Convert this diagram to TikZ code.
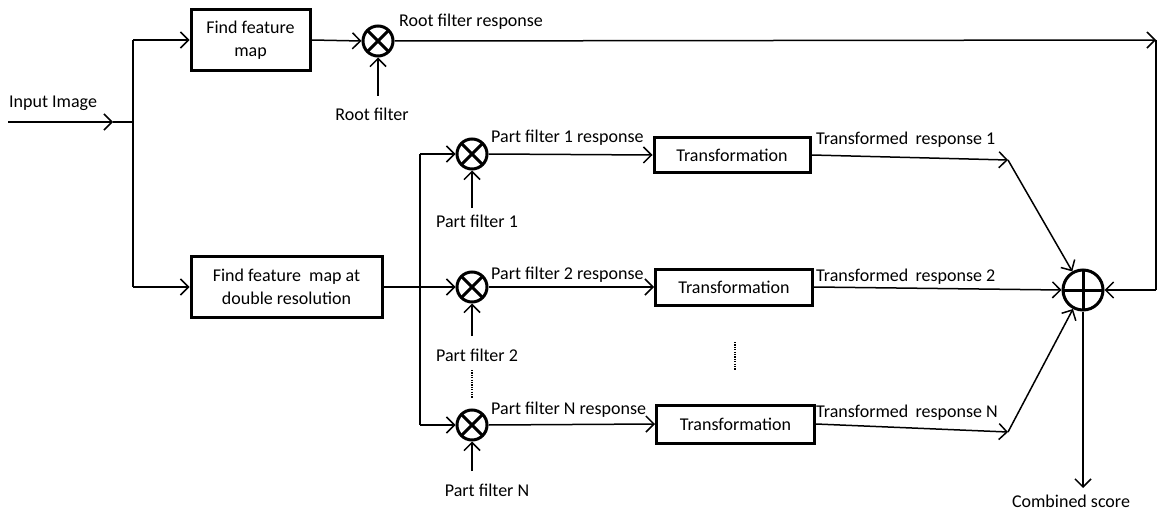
\documentclass[tikz,border=0pt]{standalone}
\usepackage{fontspec}
\setmainfont{Carlito}
\usetikzlibrary{arrows.meta}
\begin{document}
\begin{tikzpicture}[x=1pt,y=-1pt,
  every node/.style={font=\fontsize{18}{23}\selectfont},
  blk/.style={draw, line width=3pt, align=center, inner sep=0pt},
  mul/.style={circle, draw, line width=3pt, minimum size=30pt, inner sep=0pt,
    path picture={\draw[line width=3pt] (path picture bounding box.north west) -- (path picture bounding box.south east)
      (path picture bounding box.north east) -- (path picture bounding box.south west);}},
  add/.style={circle, draw, line width=3pt, minimum size=40pt, inner sep=0pt,
    path picture={\draw[line width=3pt] (path picture bounding box.north) -- (path picture bounding box.south)
      (path picture bounding box.east) -- (path picture bounding box.west);}},
  wire/.style={line width=1.5pt},
  arr/.style={wire, -{Straight Barb[length=8pt,width=16pt,line width=1.5pt]}},
  dots/.style={line width=1.3pt, dash pattern=on 1.2pt off 1.2pt},
  lbl/.style={inner sep=0pt}
]
\useasboundingbox (0,0) rectangle (1158,513);

% blocks
\node[blk, minimum width=119pt, minimum height=61pt] (fm) at (250.5,40) {Find feature\\map};
\node[blk, minimum width=191pt, minimum height=61pt] (fm2) at (286.5,287) {Find feature\hspace{0.45em}map at\\double resolution};
\node[blk, minimum width=156pt, minimum height=35pt] (t1) at (732,155) {Transformation};
\node[blk, minimum width=157pt, minimum height=36pt] (t2) at (734,287) {Transformation};
\node[blk, minimum width=158pt, minimum height=38pt] (tn) at (735.5,424) {Transformation};

% multipliers and adder
\node[mul] (mr) at (378,41) {};
\node[mul] (m1) at (472,154) {};
\node[mul] (m2) at (472,287) {};
\node[mul] (mn) at (472,425) {};
\node[add] (sum) at (1083,290) {};

% labels
\node[lbl, anchor=west] (inlbl) at (9,103) {Input Image};
\node[lbl] (rflbl) at (372,114) {Root filter};
\node[lbl, anchor=west] (rrlbl) at (399,22) {Root filter response};
\node[lbl] (p1lbl) at (477,221) {Part filter 1};
\node[lbl] (p2lbl) at (477,355) {Part filter 2};
\node[lbl] (pnlbl) at (487,490) {Part filter N};
\node[lbl, anchor=west] (r1lbl) at (491,138) {Part filter 1 response};
\node[lbl, anchor=west] (r2lbl) at (491,275) {Part filter 2 response};
\node[lbl, anchor=west] (rnlbl) at (491,410) {Part filter N response};
\node[lbl, anchor=west] (tr1lbl) at (816,140) {Transformed\hspace{0.4em}response 1};
\node[lbl, anchor=west] (tr2lbl) at (816,277) {Transformed\hspace{0.4em}response 2};
\node[lbl, anchor=west] (trnlbl) at (816,413) {Transformed\hspace{0.4em}response N};
\node[lbl] (cslbl) at (1071,501) {Combined score};

% coordinates
\coordinate (in) at (8,122);
\coordinate (inmid) at (113,122);
\coordinate (j0) at (133,122);
\coordinate (jt) at (133,40);
\coordinate (jb) at (133,287);
\coordinate (rfs) at (378,96);
\coordinate (tr) at (1156,40);
\coordinate (br) at (1156,290);
\coordinate (jp1) at (420,154);
\coordinate (jp2) at (420,287);
\coordinate (jpn) at (420,425);
\coordinate (p1s) at (472,208);
\coordinate (p2s) at (472,336);
\coordinate (pns) at (472,471);
\coordinate (d1a) at (472,370);
\coordinate (d1b) at (472,398);
\coordinate (d2a) at (735,342);
\coordinate (d2b) at (735,370);
\coordinate (c1) at (1008,160);
\coordinate (cn) at (1008,432);
\coordinate (cs) at (1083,488);

% connectors
\draw[arr] (in) -- (inmid);
\draw[wire] (inmid) -- (j0);
\draw[wire] (jt) -- (jb);
\draw[arr] (jt) -- (fm.west);
\draw[arr] (jb) -- (fm2.west);
\draw[arr] (fm.east) -- (mr.west);
\draw[arr] (rfs) -- (mr.south);
\draw[arr] (mr.east) -- (tr);
\draw[wire] (tr) -- (br);
\draw[arr] (br) -- (sum.east);

\draw[wire] (fm2.east) -- (jp2);
\draw[wire] (jp1) -- (jpn);
\draw[arr] (jp1) -- (m1.west);
\draw[arr] (jp2) -- (m2.west);
\draw[arr] (jpn) -- (mn.west);
\draw[arr] (p1s) -- (m1.south);
\draw[arr] (p2s) -- (m2.south);
\draw[arr] (pns) -- (mn.south);
\draw[dots] (d1a) -- (d1b);
\draw[dots] (d2a) -- (d2b);

\draw[arr] (m1.east) -- (t1.west);
\draw[arr] (m2.east) -- (t2.west);
\draw[arr] (mn.east) -- (tn.west);

\draw[arr] (t1.east) -- (c1);
\draw[arr] (c1) -- (sum);
\draw[arr] (t2.east) -- (sum.west);
\draw[arr] (tn.east) -- (cn);
\draw[arr] (cn) -- (sum);
\draw[arr] (sum.south) -- (cs);
\end{tikzpicture}
\end{document}
